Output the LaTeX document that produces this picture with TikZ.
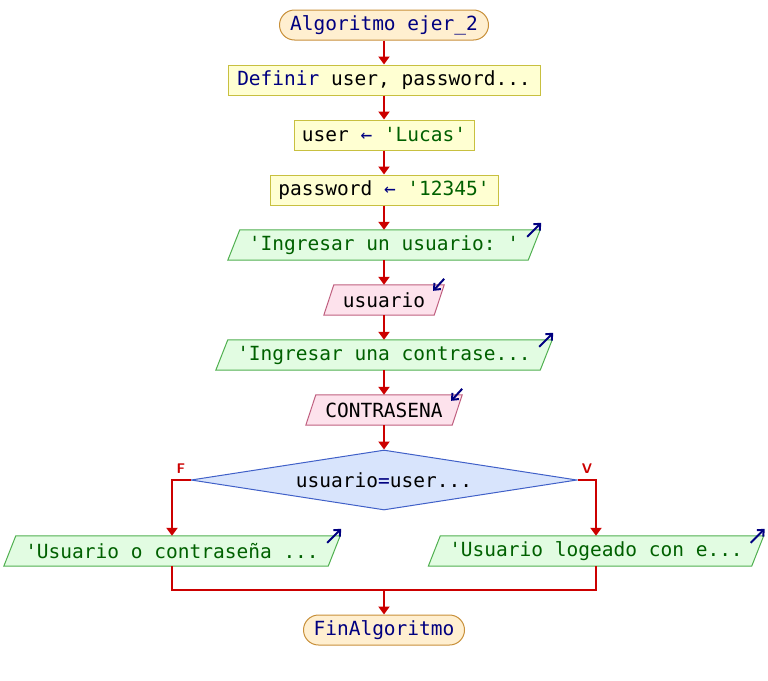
\documentclass[tikz,border=0pt]{standalone}
\usepackage{fontspec}
\setmainfont{DejaVu Sans}
\setmonofont{DejaVu Sans Mono}
\usetikzlibrary{arrows.meta,shapes.geometric,backgrounds,calc}
\definecolor{redl}{HTML}{CC0000}
\definecolor{kw}{HTML}{000080}
\definecolor{str}{HTML}{006000}
\definecolor{termfill}{HTML}{FFEFD0}
\definecolor{termdraw}{HTML}{C8903A}
\definecolor{procfill}{HTML}{FFFFD2}
\definecolor{procdraw}{HTML}{C8C040}
\definecolor{outfill}{HTML}{E2FCE2}
\definecolor{outdraw}{HTML}{50B050}
\definecolor{infill}{HTML}{FDE2EC}
\definecolor{indraw}{HTML}{C06080}
\definecolor{decfill}{HTML}{D8E4FC}
\definecolor{decdraw}{HTML}{4060C8}
\newcommand{\drawpara}[3]{%
  \filldraw[#3] ([xshift=#2]#1.north west) -- ([xshift=#2]#1.north east) -- ([xshift=-#2]#1.south east) -- ([xshift=-#2]#1.south west) -- cycle;}
\begin{document}
\begin{tikzpicture}[x=1pt,y=-1pt,
  every node/.style={font=\ttfamily\fontsize{19.5}{22}\selectfont, inner sep=0pt, minimum height=30pt},
  term/.style={draw=termdraw, fill=termfill, line width=1pt, rounded corners=15pt},
  proc/.style={draw=procdraw, fill=procfill, line width=1pt},
  outshape/.style={draw=outdraw, fill=outfill, line width=1pt},
  inshape/.style={draw=indraw, fill=infill, line width=1pt},
  iotext/.style={draw=none},
  redline/.style={draw=redl, line width=2pt},
  flow/.style={redline, -{Triangle[width=11pt,length=8pt]}},
  icon/.style={draw=kw, line width=2pt, -{Straight Barb[width=9pt,length=5pt,line width=2pt]}},
  lab/.style={font=\sffamily\bfseries\fontsize{14}{16}\selectfont, text=redl, minimum height=0pt}
]
\useasboundingbox (0,0) rectangle (768,680);

\node[term, minimum width=209pt] (start) at (384,25) {\textcolor{kw}{Algoritmo ejer\_2}};
\node[proc, minimum width=312pt] (def) at (384,80) {\textcolor{kw}{Definir} user, password...};
\node[proc, minimum width=180pt] (a1) at (384,135) {user \textcolor{kw}{←} \textcolor{str}{'Lucas'}};
\node[proc, minimum width=228pt] (a2) at (384,190) {password \textcolor{kw}{←} \textcolor{str}{'12345'}};
\node[iotext, minimum width=300pt] (o1) at (384,245) {\textcolor{str}{'Ingresar un usuario: '}};
\node[iotext, minimum width=110pt] (i1) at (384,300) {usuario};
\node[iotext, minimum width=324pt] (o2) at (384,355) {\textcolor{str}{'Ingresar una contrase...}};
\node[iotext, minimum width=146pt] (i2) at (384,410) {CONTRASENA};
\node[shape=diamond, aspect=6.43, draw=decdraw, fill=decfill, line width=1pt, minimum width=386pt, minimum height=60pt] (cond) at (384,480) {usuario\textcolor{kw}{=}user...};
\node[iotext, minimum width=324pt] (o3) at (172,551) {\textcolor{str}{'Usuario o contraseña ...}};
\node[iotext, minimum width=323pt] (o4) at (596,551) {\textcolor{str}{'Usuario logeado con e...}};
\node[term, minimum width=161pt] (fin) at (384,630) {\textcolor{kw}{FinAlgoritmo}};
\node[lab] (lf) at (181,469) {F};
\node[lab] (lv) at (587,469) {V};
\coordinate (m) at (384,590);

\begin{scope}[on background layer]
  \drawpara{o1}{6pt}{outshape}
  \drawpara{i1}{5pt}{inshape}
  \drawpara{o2}{6pt}{outshape}
  \drawpara{i2}{5pt}{inshape}
  \drawpara{o3}{6pt}{outshape}
  \drawpara{o4}{6pt}{outshape}
\end{scope}

% io icons
\foreach \n in {o1,o2,o3,o4} {
  \draw[icon] ([xshift=-7pt,yshift=-7pt]\n.north east) -- ([xshift=7pt,yshift=7pt]\n.north east);
}
\foreach \n in {i1,i2} {
  \draw[icon] ([xshift=5pt,yshift=6pt]\n.north east) -- ([xshift=-6pt,yshift=-6pt]\n.north east);
}

\draw[flow] (start) -- (def);
\draw[flow] (def) -- (a1);
\draw[flow] (a1) -- (a2);
\draw[flow] (a2) -- (o1);
\draw[flow] (o1) -- (i1);
\draw[flow] (i1) -- (o2);
\draw[flow] (o2) -- (i2);
\draw[flow] (i2.south) -- (cond.north);
\draw[flow] (cond.west) -| (o3.north);
\draw[flow] (cond.east) -| (o4.north);
\draw[redline] (o3.south) |- (m) -| (o4.south);
\draw[flow] (m) -- (fin.north);
\end{tikzpicture}
\end{document}
